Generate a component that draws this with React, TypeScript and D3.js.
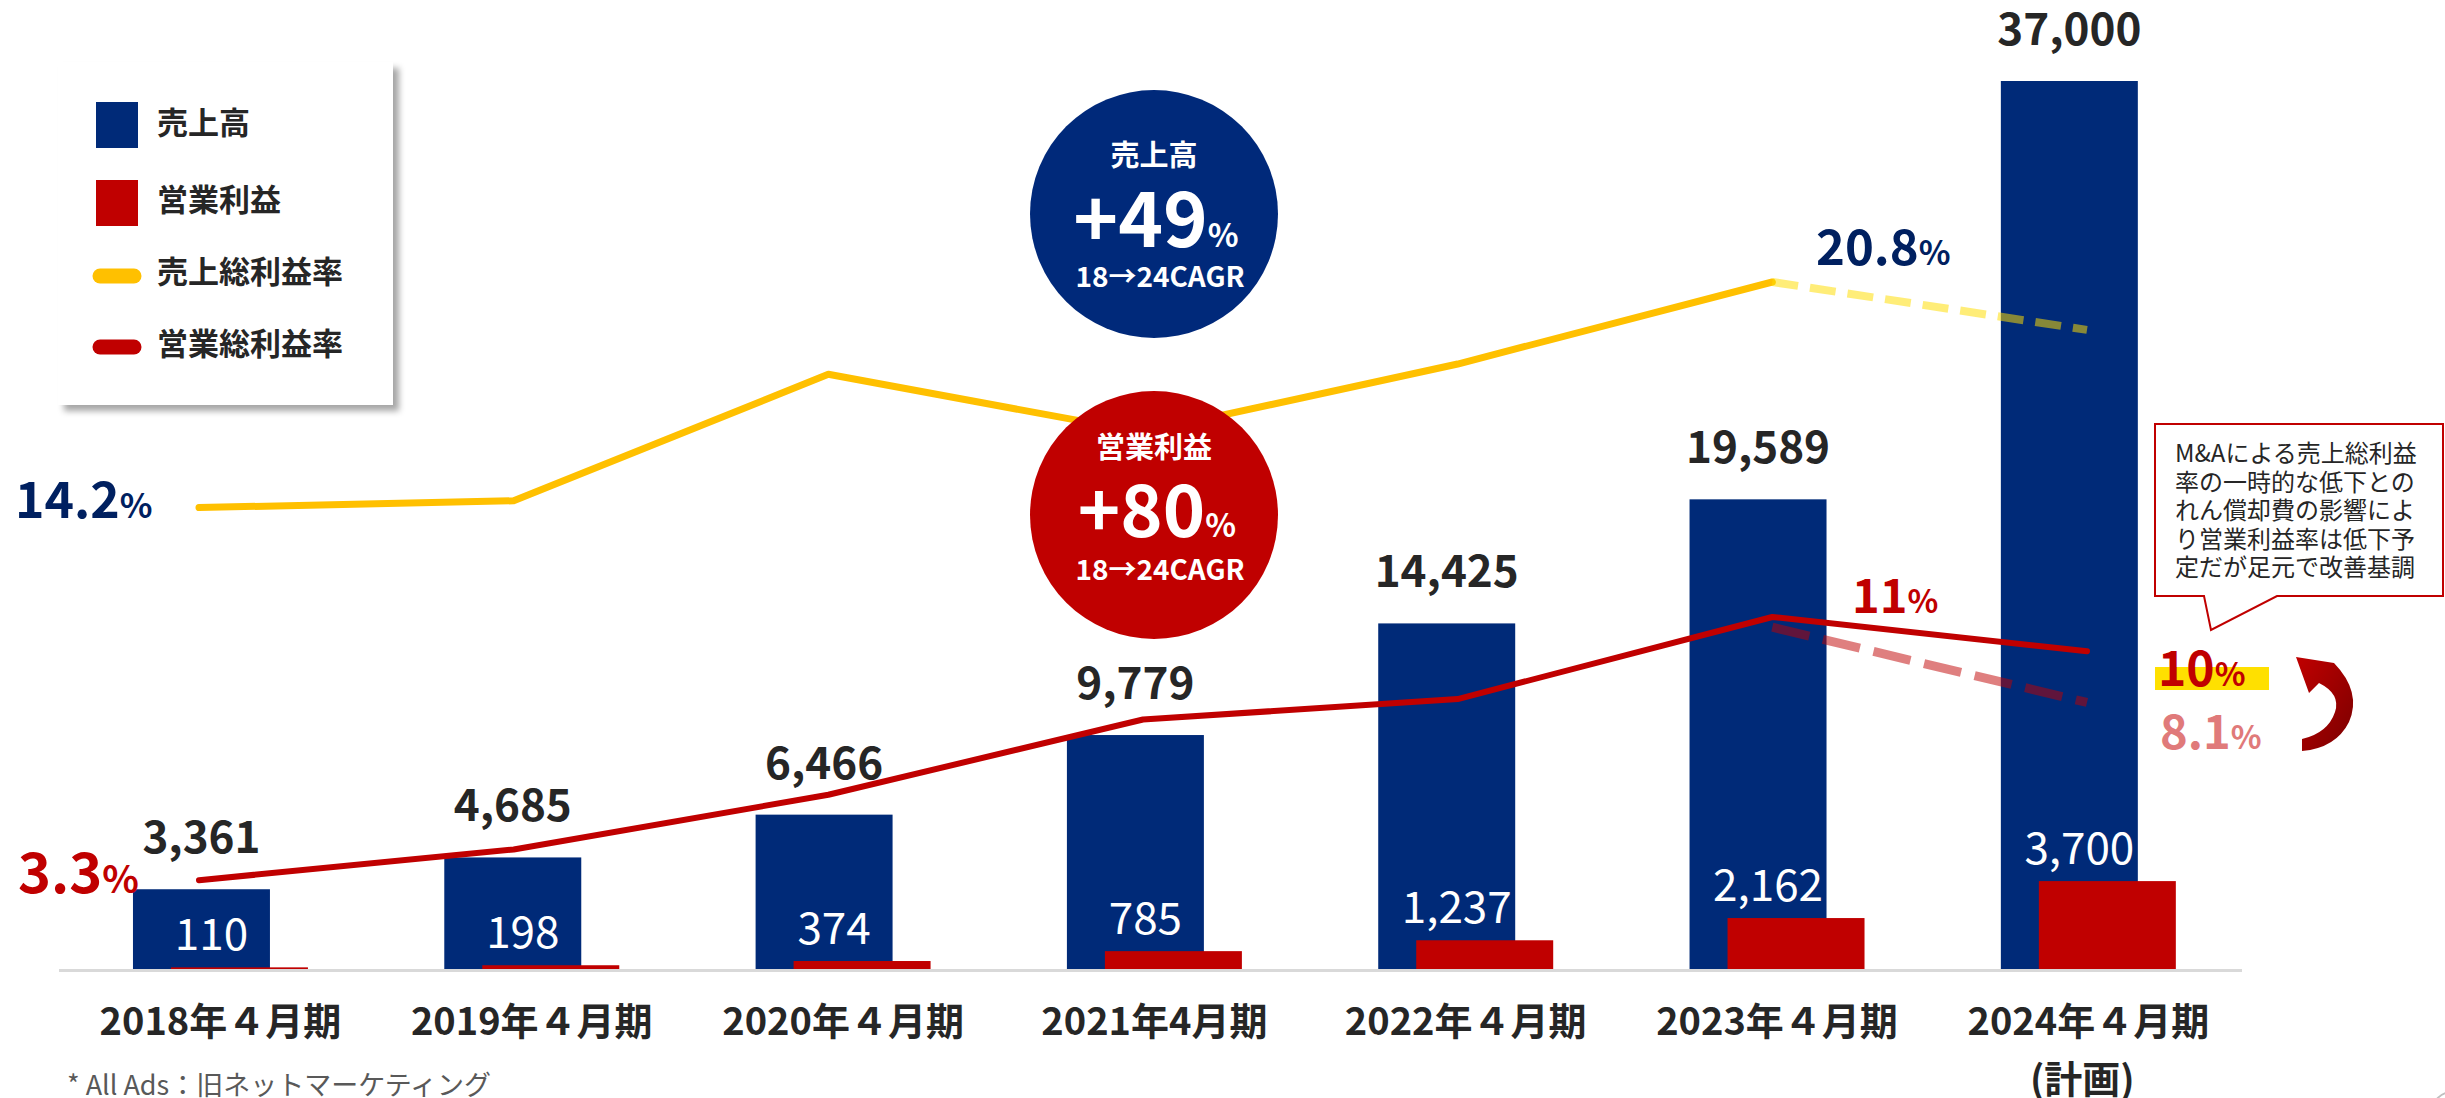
import React from 'react';
import * as d3 from 'd3';

const categories = ['2018年４月期', '2019年４月期', '2020年４月期', '2021年4月期', '2022年４月期', '2023年４月期', '2024年４月期'];
const sales = [3361, 4685, 6466, 9779, 14425, 19589, 37000];
const opProfit = [110, 198, 374, 785, 1237, 2162, 3700];
const grossMargin = [14.2, 14.4, 18.1, 16.4, 18.4, 20.8];
const grossMarginPlan = [20.8, 19.4];
const opMargin = [3.3, 4.2, 5.8, 8.0, 8.6, 11, 10];
const opMarginPlan = [10.7, 8.5];
const legendLabels = ['売上高', '営業利益', '売上総利益率', '営業総利益率'];
const calloutLines = ['M&Aによる売上総利益', '率の一時的な低下との', 'れん償却費の影響によ', 'り営業利益率は低下予', '定だが足元で改善基調'];

const W = 2445;
const H = 1098;
const FONT = '"Noto Sans CJK JP", "Noto Sans", sans-serif';
const NAVY = '#002A78';
const NAVY_TXT = '#002060';
const RED = '#C00000';
const YELLOW = '#FFC000';
const DARK = '#262626';

export default function App() {
  const x = d3.scaleBand<string>().domain(categories).range([45.8, 2225]).paddingInner(0.56).paddingOuter(0.28);
  const bw = x.bandwidth();
  const redOff = 38;
  const xLine = d3.scalePoint<string>().domain(categories).range([199, 2087]);
  const y = d3.scaleLinear().domain([0, 37000]).range([970, 81]);
  const yPct = d3.scaleLinear().domain([0, 20.8]).range([993, 282]);

  const line = d3.line<[string, number]>().x(d => xLine(d[0]) as number).y(d => yPct(d[1]));
  const gmPts: [string, number][] = grossMargin.map((v, i) => [categories[i], v]);
  const gmPlanPts: [string, number][] = grossMarginPlan.map((v, i) => [categories[5 + i], v]);
  const omPts: [string, number][] = opMargin.map((v, i) => [categories[i], v]);
  const omPlanPts: [string, number][] = opMarginPlan.map((v, i) => [categories[5 + i], v]);

  return (
    <svg width={W} height={H} viewBox={`0 0 ${W} ${H}`} style={{ position: 'absolute', left: 0, top: 0, display: 'block', background: '#fff' }} fontFamily={FONT}>
      <defs>
        <filter id="shadow" x="-10%" y="-10%" width="130%" height="130%">
          <feDropShadow dx="6" dy="6" stdDeviation="3" floodColor="#000" floodOpacity="0.35" />
        </filter>
        <linearGradient id="arrowGrad" x1="0" y1="0" x2="1" y2="1">
          <stop offset="0" stopColor="#C00000" />
          <stop offset="1" stopColor="#7A0000" />
        </linearGradient>
      </defs>
      <rect x={0} y={0} width={W} height={H} fill="#fff" />

      {/* bars */}
      {categories.map((c, i) => (
        <rect key={'b' + i} x={x(c)} y={y(sales[i])} width={bw} height={y(0) - y(sales[i])} fill={NAVY} />
      ))}
      {categories.map((c, i) => (
        <rect key={'r' + i} x={(x(c) as number) + redOff} y={y(opProfit[i])} width={bw} height={y(0) - y(opProfit[i])} fill={RED} />
      ))}
      <line x1={59} x2={2242} y1={970.5} y2={970.5} stroke="#D9D9D9" strokeWidth={3} />

      {/* op profit labels (white) */}
      {categories.map((c, i) => (
        <text key={'rl' + i} x={(x(c) as number) + bw / 2 + 10} y={y(opProfit[i]) - 17} fill="#fff" fontSize={44} textAnchor="middle">
          {d3.format(',')(opProfit[i])}
        </text>
      ))}

      {/* lines */}
      <path d={line(gmPts) as string} fill="none" stroke={YELLOW} strokeWidth={7} strokeLinecap="round" strokeLinejoin="round" />
      <path d={line(gmPlanPts) as string} fill="none" stroke="#FFDD00" strokeOpacity={0.53} strokeWidth={8} strokeDasharray="26 12" />
      <path d={line(omPlanPts) as string} fill="none" stroke={RED} strokeOpacity={0.5} strokeWidth={9} strokeDasharray="38 14" />
      <path d={line(omPts) as string} fill="none" stroke={RED} strokeWidth={6} strokeLinecap="round" strokeLinejoin="round" />

      {/* sales labels */}
      {categories.map((c, i) => (
        <text key={'sl' + i} x={(x(c) as number) + bw / 2} y={y(sales[i]) - 36} fill={DARK} fontSize={44} fontWeight="bold" textAnchor="middle">
          {d3.format(',')(sales[i])}
        </text>
      ))}

      {/* x axis labels */}
      {categories.map((c, i) => (
        <text key={'xl' + i} x={(x(c) as number) + (bw + redOff) / 2} y={1035} fill={DARK} fontSize={38} fontWeight="bold" textAnchor="middle">
          {c}
        </text>
      ))}
      <text x={(x(categories[6]) as number) + (bw + redOff) / 2 - 6} y={1093} fill={DARK} fontSize={38} fontWeight="bold" textAnchor="middle">(計画)</text>

      {/* footnote */}
      <text x={67} y={1095} fill="#595959" fontSize={27}>* All Ads：旧ネットマーケティング</text>
      <circle cx={2452} cy={1112} r={20} fill="none" stroke="#BFBFBF" strokeWidth={2} />

      {/* CAGR circles */}
      <circle cx={1154} cy={214} r={124} fill="#00297A" />
      <text x={1154} y={166} fill="#fff" fontSize={29} fontWeight="bold" textAnchor="middle">売上高</text>
      <text x={1156} y={247} fill="#fff" fontSize={76} fontWeight="bold" textAnchor="middle">+49<tspan fontSize={32}>%</tspan></text>
      <text x={1160} y={287} fill="#fff" fontSize={28} fontWeight="bold" textAnchor="middle">18→24CAGR</text>

      <circle cx={1154} cy={515} r={124} fill={RED} />
      <text x={1154} y={458} fill="#fff" fontSize={29} fontWeight="bold" textAnchor="middle">営業利益</text>
      <text x={1157} y={537} fill="#fff" fontSize={72} fontWeight="bold" textAnchor="middle">+80<tspan fontSize={32}>%</tspan></text>
      <text x={1160} y={580} fill="#fff" fontSize={28} fontWeight="bold" textAnchor="middle">18→24CAGR</text>

      {/* percent labels */}
      <text x={15} y={518} fill={NAVY_TXT} fontSize={50} fontWeight="bold">14.2<tspan fontSize={34}>%</tspan></text>
      <text x={18} y={893} fill={RED} fontSize={56} fontWeight="bold">3.3<tspan fontSize={38}>%</tspan></text>
      <text x={1816} y={265} fill={NAVY_TXT} fontSize={49} fontWeight="bold">20.8<tspan fontSize={33}>%</tspan></text>
      <text x={1852} y={613} fill={RED} fontSize={47} fontWeight="bold">11<tspan fontSize={32}>%</tspan></text>
      <rect x={2155} y={667} width={114} height={23} fill="#FFE000" />
      <text x={2158} y={686} fill={RED} fontSize={48} fontWeight="bold">10<tspan fontSize={32}>%</tspan></text>
      <text x={2160} y={749} fill="#E07A7A" fontSize={47} fontWeight="bold">8.1<tspan fontSize={32}>%</tspan></text>

      {/* curved arrow */}
      <path d="M 2296 657 L 2334 663 Q 2362 692 2349 722 Q 2336 748 2302 751 L 2302 739 Q 2328 733 2335 712 Q 2341 694 2319 683 L 2309 693 Z" fill="url(#arrowGrad)" />

      {/* callout */}
      <path d="M 2155 424 H 2443 V 596 H 2277 L 2211 630 L 2204 596 H 2155 Z" fill="#fff" stroke={RED} strokeWidth={2} />
      {calloutLines.map((t, i) => (
        <text key={'cl' + i} x={2175} y={462 + i * 28.5} fill={DARK} fontSize={24}>{t}</text>
      ))}

      {/* legend */}
      <rect x={58} y={62} width={335} height={343} fill="#fff" filter="url(#shadow)" />
      <rect x={96} y={102} width={42} height={46} fill={NAVY} />
      <rect x={96} y={180} width={42} height={46} fill={RED} />
      <line x1={100} x2={134} y1={276} y2={276} stroke={YELLOW} strokeWidth={15} strokeLinecap="round" />
      <line x1={100} x2={134} y1={347} y2={347} stroke={RED} strokeWidth={15} strokeLinecap="round" />
      {legendLabels.map((t, i) => (
        <text key={'lg' + i} x={157} y={[134, 211, 283, 355][i]} fill={DARK} fontSize={31} fontWeight="bold">{t}</text>
      ))}
    </svg>
  );
}
